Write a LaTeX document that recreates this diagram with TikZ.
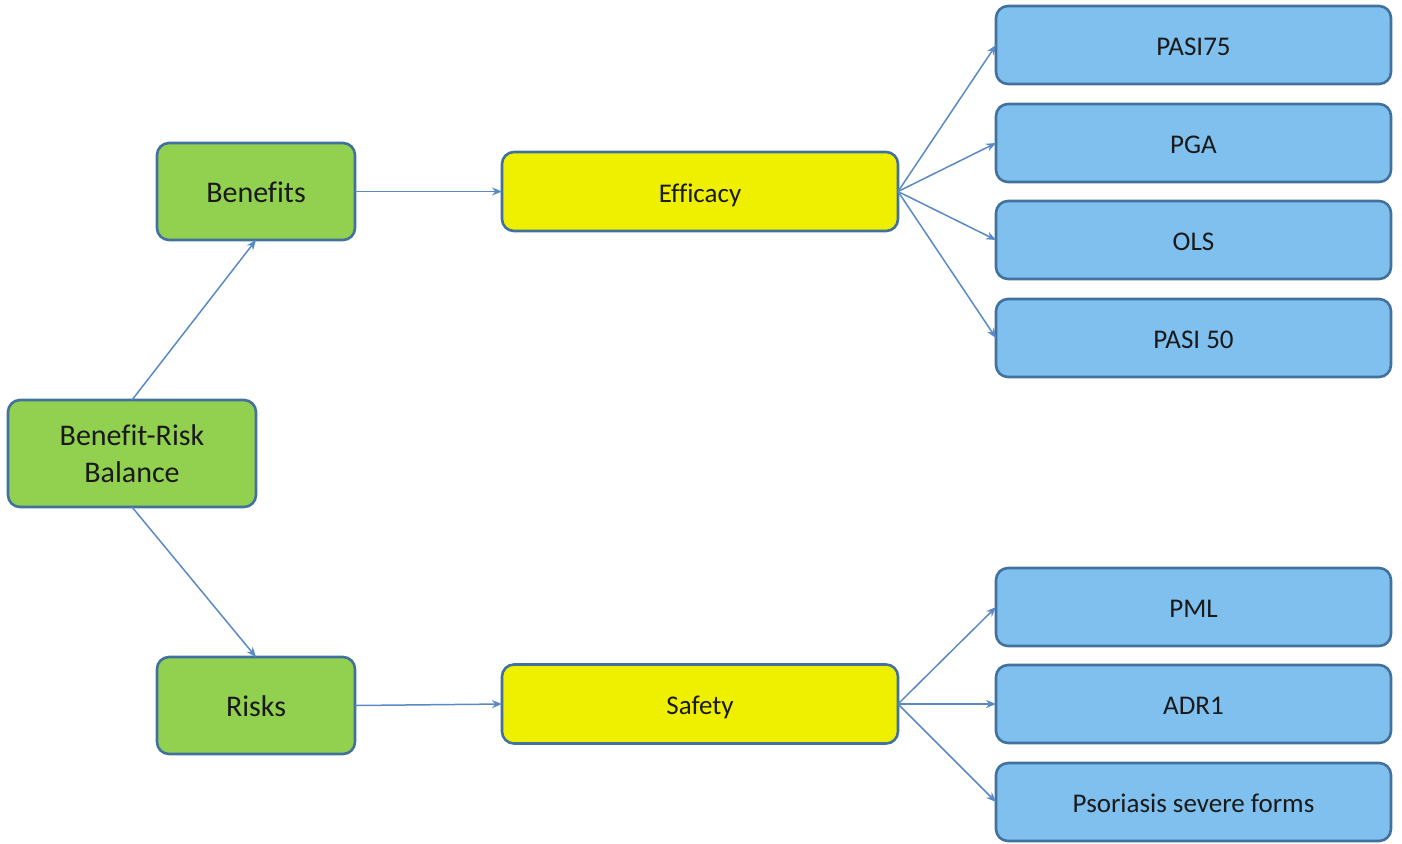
\documentclass[tikz,border=0pt]{standalone}
\usepackage{fontspec}
\setmainfont[Ligatures=NoCommon]{Carlito}
\usetikzlibrary{arrows.meta}
\definecolor{bordc}{HTML}{41719C}
\definecolor{greenf}{HTML}{92D050}
\definecolor{yellowf}{HTML}{EFEF00}
\definecolor{bluef}{HTML}{7FC0EE}
\definecolor{arrc}{HTML}{5A8AC6}
\definecolor{txt}{HTML}{1A1A1A}
\begin{document}
\begin{tikzpicture}[x=0.5pt,y=-0.5pt,
  box/.style={draw=bordc,line width=1.3pt,rounded corners=6pt,inner sep=0pt,outer sep=0pt,text=txt,align=center},
  greenbox/.style={box,fill=greenf,font=\fontsize{15}{18.5}\selectfont},
  onel/.style={text height=1.3em,text depth=0.25em},
  yellowbox/.style={box,onel,fill=yellowf,minimum width=198pt,minimum height=39.5pt,font=\fontsize{13.5}{16}\selectfont},
  bluebox/.style={box,onel,fill=bluef,minimum width=197.5pt,minimum height=39pt,font=\fontsize{13.5}{16}\selectfont},
  conn/.style={draw=arrc,line width=0.75pt,-{Stealth[length=5pt,width=4pt]}}]
\useasboundingbox (0,0) rectangle (1402,843);
\node[greenbox,minimum width=124pt,minimum height=53.5pt] (brb) at (132,453.5) {Benefit-Risk\\Balance};
\node[greenbox,onel,minimum width=99pt,minimum height=48.5pt] (ben) at (256,191.5) {Benefits};
\node[greenbox,onel,minimum width=99pt,minimum height=48.5pt] (risk) at (256,705.5) {Risks};
\node[yellowbox] (eff) at (700,191.5) {Efficacy};
\node[yellowbox] (saf) at (700,704) {Safety};
\node[bluebox] (b1) at (1193.5,45) {PASI75};
\node[bluebox] (b2) at (1193.5,143) {PGA};
\node[bluebox] (b3) at (1193.5,240) {OLS};
\node[bluebox] (b4) at (1193.5,338) {PASI 50};
\node[bluebox] (b5) at (1193.5,607) {PML};
\node[bluebox] (b6) at (1193.5,704) {ADR1};
\node[bluebox] (b7) at (1193.5,802) {Psoriasis severe forms};
\draw[conn] (brb.north) -- (ben.south);
\draw[conn] (brb.south) -- (risk.north);
\draw[conn] (ben.east) -- (eff.west);
\draw[conn] (risk.east) -- (saf.west);
\foreach \b in {b1,b2,b3,b4} \draw[conn] (eff.east) -- (\b.west);
\foreach \b in {b5,b6,b7} \draw[conn] (saf.east) -- (\b.west);
\end{tikzpicture}
\end{document}
